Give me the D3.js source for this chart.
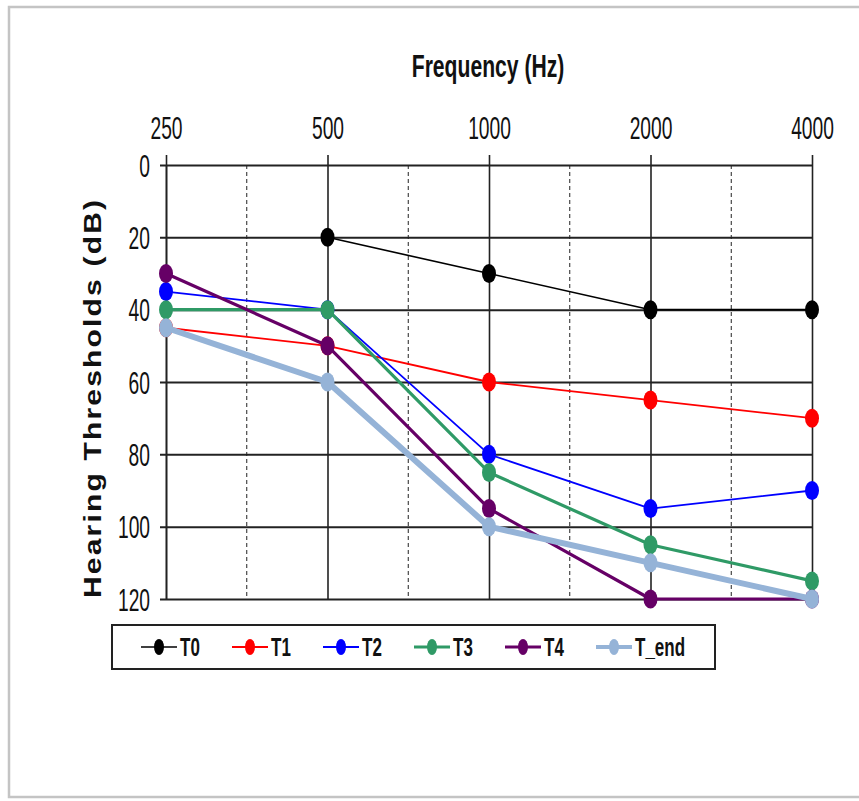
<!DOCTYPE html>
<html>

<head>
    <meta charset="utf-8" />
    <title>Hearing Thresholds</title>
    <script type="text/javascript" src="https://cdn.jsdelivr.net/npm/d3@7"></script>
    <style>
        body { margin: 0; background: #fff; }
        text { font-family: "Liberation Sans", Arial, sans-serif; fill: #111; }
    </style>
</head>

<body>
    <script type="text/javascript">
        // data
        const frequencies = [250, 500, 1000, 2000, 4000];
        const thresholdTicks = [0, 20, 40, 60, 80, 100, 120];
        const seriesNames = ["T0", "T1", "T2", "T3", "T4", "T_end"];
        const t0 = [null, 20, 30, 40, 40];
        const t1 = [45, 50, 60, 65, 70];
        const t2 = [35, 40, 80, 95, 90];
        const t3 = [40, 40, 85, 105, 115];
        const t4 = [30, 50, 95, 120, 120];
        const tEnd = [45, 60, 100, 110, 120];

        const seriesValues = [t0, t1, t2, t3, t4, tEnd];

        // look of each series
        const styles = {
            "T0": { color: "#000000", width: 1.6 },
            "T1": { color: "#ff0000", width: 1.8 },
            "T2": { color: "#0000ff", width: 1.8 },
            "T3": { color: "#2f9a66", width: 3.2 },
            "T4": { color: "#660066", width: 3.2 },
            "T_end": { color: "#95b3d7", width: 6 }
        };

        const width = 859, height = 801;
        const squash = 0.62;

        const svg = d3.select("body").append("svg")
            .attr("width", width)
            .attr("height", height);

        // frame round the picture
        svg.append("rect")
            .attr("x", 9).attr("y", 7)
            .attr("width", 870).attr("height", 790)
            .attr("fill", "none")
            .attr("stroke", "#c4c4c4")
            .attr("stroke-width", 2.5);

        const x = d3.scaleLog().base(2)
            .domain([250, 4000])
            .range([166, 812]);

        const y = d3.scaleLinear()
            .domain([0, 120])
            .range([165, 599]);

        // dashed half-octave lines
        const halfOctaves = d3.range(frequencies.length - 1)
            .map(i => Math.sqrt(frequencies[i] * frequencies[i + 1]));

        svg.append("g").selectAll("line")
            .data(halfOctaves)
            .enter().append("line")
            .attr("x1", d => x(d)).attr("x2", d => x(d))
            .attr("y1", y(0)).attr("y2", y(120))
            .attr("stroke", "#222")
            .attr("stroke-width", 1)
            .attr("stroke-dasharray", "4,3");

        // x axis on top, ticks used as grid
        const xAxis = d3.axisTop(x)
            .tickValues(frequencies)
            .tickFormat(d3.format("d"))
            .tickSizeInner(-(y(120) - y(0)))
            .tickSizeOuter(0)
            .tickPadding(0);

        const xG = svg.append("g")
            .attr("transform", `translate(0,${y(0)})`)
            .call(xAxis);
        xG.select(".domain").remove();
        xG.selectAll(".tick line")
            .attr("y1", -10)
            .attr("stroke", "#222")
            .attr("stroke-width", 1.6);
        xG.selectAll(".tick text")
            .attr("y", -26)
            .attr("font-size", 31)
            .attr("transform", `scale(${squash},1)`)
            .style("fill", "#111");

        // y axis with horizontal grid lines
        const yAxis = d3.axisLeft(y)
            .tickValues(thresholdTicks)
            .tickSizeInner(6)
            .tickSizeOuter(0)
            .tickPadding(0);

        const yG = svg.append("g")
            .attr("transform", `translate(${x(250)},0)`)
            .call(yAxis);
        yG.select(".domain")
            .attr("stroke", "#222")
            .attr("stroke-width", 1.6);
        yG.selectAll(".tick line")
            .attr("x1", -6)
            .attr("x2", x(4000) - x(250))
            .attr("stroke", "#222")
            .attr("stroke-width", 2);
        yG.selectAll(".tick text")
            .attr("x", -16 / squash)
            .attr("dy", "0.36em")
            .attr("font-size", 31)
            .attr("transform", `scale(${squash},1)`)
            .style("fill", "#111");

        // axis titles
        svg.append("text")
            .attr("transform", `translate(488,77) scale(0.66,1)`)
            .attr("text-anchor", "middle")
            .attr("font-size", 32)
            .attr("font-weight", "bold")
            .text("Frequency (Hz)");

        svg.append("text")
            .attr("transform", "translate(101,399) rotate(-90) scale(1,0.82)")
            .attr("text-anchor", "middle")
            .attr("font-size", 30)
            .attr("font-weight", "bold")
            .attr("textLength", 398)
            .attr("lengthAdjust", "spacing")
            .text("Hearing Thresholds (dB)");

        // series
        const line = d3.line()
            .defined(d => d.v !== null)
            .x(d => x(d.f))
            .y(d => y(d.v));

        const series = seriesNames.map((name, i) => ({
            name: name,
            points: frequencies.map((f, j) => ({ f: f, v: seriesValues[i][j] }))
        }));

        const seriesG = svg.append("g").selectAll("g")
            .data(series)
            .enter().append("g");

        seriesG.append("path")
            .attr("d", d => line(d.points))
            .attr("fill", "none")
            .attr("stroke", d => styles[d.name].color)
            .attr("stroke-width", d => styles[d.name].width)
            .attr("stroke-linejoin", "round");

        seriesG.selectAll("ellipse")
            .data(d => d.points.filter(p => p.v !== null).map(p => ({ ...p, name: d.name })))
            .enter().append("ellipse")
            .attr("cx", d => x(d.f))
            .attr("cy", d => y(d.v))
            .attr("rx", 7)
            .attr("ry", 9.5)
            .attr("fill", d => styles[d.name].color);

        // legend
        const legend = svg.append("g");
        legend.append("rect")
            .attr("x", 112).attr("y", 625)
            .attr("width", 603).attr("height", 44)
            .attr("fill", "#fff")
            .attr("stroke", "#222")
            .attr("stroke-width", 2);

        const legendX = d3.scalePoint()
            .domain(seriesNames)
            .range([159, 614]);

        const items = legend.selectAll("g.item")
            .data(seriesNames)
            .enter().append("g")
            .attr("class", "item")
            .attr("transform", d => `translate(${legendX(d)},647)`);

        items.append("line")
            .attr("x1", -18).attr("x2", 18)
            .attr("stroke", d => styles[d].color)
            .attr("stroke-width", d => Math.min(styles[d].width, 4));

        items.append("ellipse")
            .attr("rx", 5).attr("ry", 8)
            .attr("fill", d => styles[d].color);

        items.append("text")
            .attr("transform", `translate(21,9) scale(0.68,1)`)
            .attr("font-size", 25)
            .attr("font-weight", "bold")
            .text(d => d);
    </script>
</body>

</html>
